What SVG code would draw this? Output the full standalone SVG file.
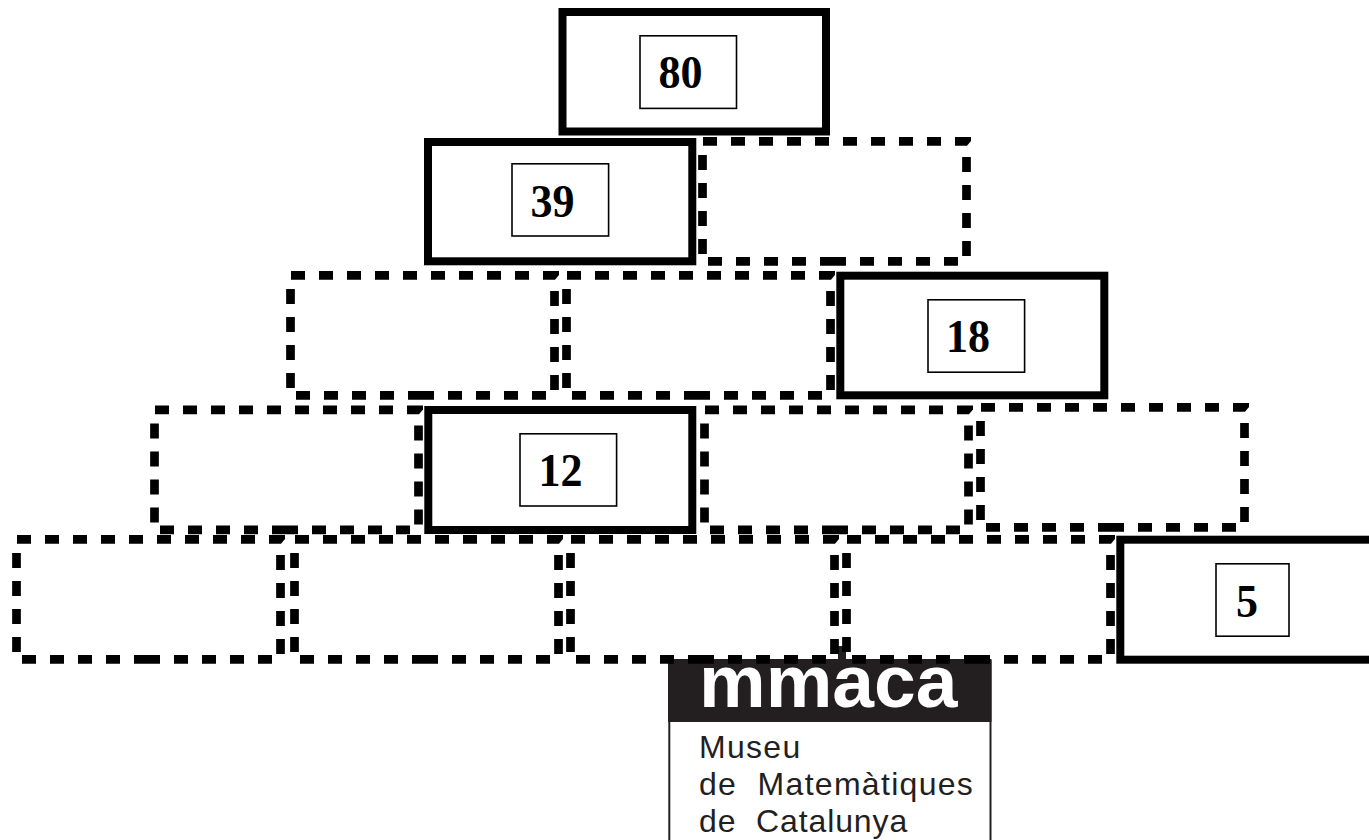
<svg xmlns="http://www.w3.org/2000/svg" width="1369" height="840" viewBox="0 0 1369 840">
<style>
.d{fill:none;stroke:#000;stroke-width:8.7}
.s{fill:#fff;stroke:#000;stroke-width:8}
.i{fill:#fff;stroke:#000;stroke-width:1.6}
.n{font:bold 47px "Liberation Serif","Times New Roman",serif;fill:#000;text-anchor:middle}
.l{font:32px "Liberation Sans",Arial,sans-serif;fill:#231f20}
</style>
<defs>
<g id="db">
<path class="d" d="M5 4.4h14m14 0h14m14 0h14m14 0h14m14 0h14m14 0h14m14 0h14m14 0h14m14 0h14"/>
<path d="M257 0H273V4L269 8.7H257Z"/>
<path class="d" d="M4.5 18v15m0 13v15m0 13v15m0 13v15"/>
<path class="d" d="M268.5 20v15m0 13v15m0 13v15m0 13v15"/>
<path class="d" d="M10 124.3h14m14 0h14m14 0h14m14 0h14m14 0h26m14 0h14m14 0h14m14 0h14m14 0h14"/>
</g>
</defs>
<rect width="1369" height="840" fill="#fff"/>
<g id="logo">
<rect x="669.3" y="660" width="321.2" height="190" fill="#fff" stroke="#231f20" stroke-width="2"/>
<rect x="668" y="660" width="323.5" height="62" fill="#231f20"/>
<rect x="838" y="646" width="8" height="15" fill="#231f20"/>
<text x="699" y="706.5" style="font:bold 75px 'Liberation Sans',Arial,sans-serif;fill:#fff">mmaca</text>
<text class="l" x="699" y="758" letter-spacing="1.3">Museu</text>
<text class="l" x="699" y="795" letter-spacing="1.3" xml:space="preserve">de  Matemàtiques</text>
<text class="l" x="699" y="832" letter-spacing="0.9" xml:space="preserve">de  Catalunya</text>
</g>
<g id="r2b"><use href="#db" x="698" y="137"/></g>
<g id="r3a"><use href="#db" x="286" y="271"/></g>
<g id="r3b"><use href="#db" x="562" y="271"/></g>
<g id="r4a"><use href="#db" x="150" y="405.5"/></g>
<g id="r4c"><use href="#db" x="700" y="405.5"/></g>
<g id="r4d"><use href="#db" x="976" y="403"/></g>
<g id="r5a"><use href="#db" x="12" y="535"/></g>
<g id="r5b"><use href="#db" x="290" y="535"/></g>
<g id="r5c"><use href="#db" x="566" y="535"/></g>
<g id="r5d"><use href="#db" x="842" y="535"/></g>
<g id="n80">
<rect class="s" x="562.5" y="12" width="263.5" height="119.5"/>
<rect class="i" x="640" y="35.8" width="96.5" height="72.6"/>
<text class="n" x="680.5" y="88" textLength="44" lengthAdjust="spacingAndGlyphs">80</text>
</g>
<g id="n39">
<rect class="s" x="428" y="142" width="264.3" height="119.3"/>
<rect class="i" x="512" y="163.8" width="96.6" height="72.2"/>
<text class="n" x="552.5" y="217" textLength="44" lengthAdjust="spacingAndGlyphs">39</text>
</g>
<g id="n18">
<rect class="s" x="840.3" y="275.7" width="264" height="119.6"/>
<rect class="i" x="928" y="299.8" width="96.6" height="72.4"/>
<text class="n" x="968" y="352" textLength="44" lengthAdjust="spacingAndGlyphs">18</text>
</g>
<g id="n12">
<rect class="s" x="428.3" y="410" width="264" height="120"/>
<rect class="i" x="520" y="433.8" width="96.6" height="72.2"/>
<text class="n" x="560.5" y="486" textLength="44" lengthAdjust="spacingAndGlyphs">12</text>
</g>
<g id="n5">
<rect class="s" x="1120.3" y="539.7" width="260" height="120"/>
<rect class="i" x="1216" y="563.8" width="73" height="72.4"/>
<text class="n" x="1247" y="616.5" textLength="22" lengthAdjust="spacingAndGlyphs">5</text>
</g>
</svg>
